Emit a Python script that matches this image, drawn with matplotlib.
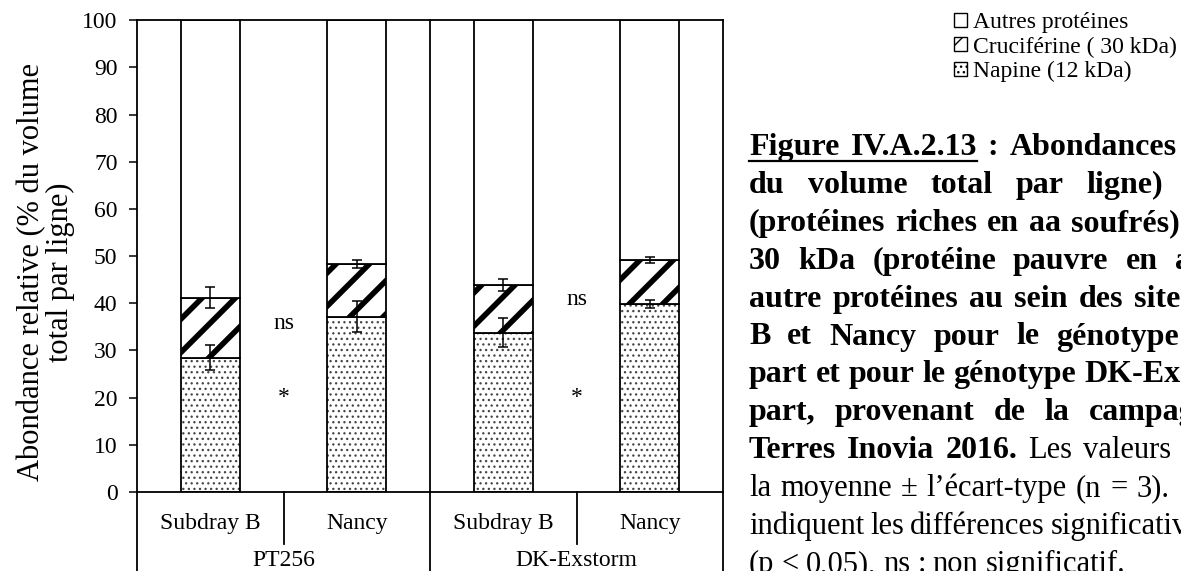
import numpy as np
import matplotlib.pyplot as plt
from matplotlib.patches import Patch

plt.rcParams['font.family'] = ['Liberation Serif', 'DejaVu Serif']

# mean abundances (% of total volume per line) and standard deviations (n = 3)
sites = ['Subdray B', 'Nancy', 'Subdray B', 'Nancy']
genotypes = ['PT256', 'DK-Exstorm']
napine = np.array([28.5, 37.2, 33.8, 39.9])
napine_sd = np.array([2.7, 3.2, 3.0, 0.9])
crucif = np.array([12.7, 11.1, 10.1, 9.3])
crucif_sd = np.array([2.2, 0.8, 1.2, 0.7])
autres = 100 - napine - crucif
sig_napine = ['*', '*']
sig_crucif = ['ns', 'ns']
legend_labels = ['Autres protéines', 'Cruciférine ( 30 kDa)', 'Napine (12 kDa)']

W, H = 1181, 571
fig = plt.figure(figsize=(W / 100, H / 100), dpi=100)
ax = fig.add_axes([137 / W, (H - 492) / H, (723 - 137) / W, (492 - 20.3) / H])

x = np.arange(len(sites))
bw = 0.4

with plt.rc_context({'hatch.linewidth': 0.9}):
    ax.bar(x, napine, bw, color='white', edgecolor='#444', linewidth=0, hatch='...')
ax.bar(x, napine, bw, fill=False, edgecolor='black', linewidth=1.3)
with plt.rc_context({'hatch.linewidth': 4.0}):
    ax.bar(x, crucif, bw, bottom=napine, color='white', edgecolor='black',
           linewidth=1.3, hatch='/')
ax.bar(x, autres, bw, bottom=napine + crucif, color='white', edgecolor='black',
       linewidth=1.3)

ax.errorbar(x, napine, yerr=napine_sd, fmt='none', ecolor='black',
            elinewidth=1.1, capsize=3.3, capthick=1.1)
ax.errorbar(x, napine + crucif, yerr=crucif_sd, fmt='none', ecolor='black',
            elinewidth=1.1, capsize=3.3, capthick=1.1)

# significance between the two sites of each genotype
ns_y = [35.8, 40.8]
for g in range(len(genotypes)):
    ax.text(2 * g + 0.5, 20, sig_napine[g], ha='center', va='center', fontsize=17)
    ax.text(2 * g + 0.5, ns_y[g], sig_crucif[g], ha='center', va='center', fontsize=17)

ax.set_xlim(-0.5, 3.5)
ax.set_ylim(0, 100)
ax.set_yticks(np.arange(0, 101, 10))
ax.set_xticks([])
ax.tick_params(axis='y', direction='out', length=6, width=1.1, pad=8, labelsize=17)
for s in ax.spines.values():
    s.set_linewidth(1.3)

# two-level category axis below the plot
tr = ax.get_xaxis_transform()
for xv in [-0.5, 3.5]:
    ax.plot([xv, xv], [0, -0.2], color='black', lw=1.3, transform=tr, clip_on=False)
ax.plot([1.5, 1.5], [1, -0.2], color='black', lw=1.3, transform=tr, clip_on=False)
for xv in [0.5, 2.5]:
    ax.plot([xv, xv], [0, -0.11], color='black', lw=1.3, transform=tr, clip_on=False)
for i, s in enumerate(sites):
    ax.text(i, -0.066, s, transform=tr, ha='center', va='center', fontsize=17)
for g, name in enumerate(genotypes):
    ax.text(2 * g + 0.5, -0.145, name, transform=tr, ha='center', va='center', fontsize=17)

fig.text(46 / W, 1 - 272 / H, 'Abondance relative (% du volume\ntotal par ligne)',
         rotation=90, ha='center', va='center', multialignment='center',
         fontsize=22, linespacing=0.98)

# legend
with plt.rc_context({'hatch.linewidth': 4.0}):
    h_crucif = Patch(facecolor='white', edgecolor='black', hatch='/', lw=1)
with plt.rc_context({'hatch.linewidth': 0.9}):
    h_napine = Patch(facecolor='white', edgecolor='black', hatch='...', lw=1)
h_autres = Patch(facecolor='white', edgecolor='black', lw=1)
fig.legend([h_autres, h_crucif, h_napine], legend_labels, loc='upper left',
           bbox_to_anchor=(954 / W, 1 - 12 / H), frameon=False, fontsize=17,
           handlelength=0.55, handleheight=0.55, handletextpad=0.25,
           labelspacing=0.15, borderpad=0, borderaxespad=0)

# caption block, justified lines laid out word by word
renderer = fig.canvas.get_renderer()


def put_words(y, words, gap, x0=749, weight='bold'):
    xw = x0
    ends = []
    for w in words:
        if isinstance(w, tuple):
            w, wt = w
        else:
            wt = weight
        size = 23 if wt == 'bold' else 22
        t = fig.text(xw / W, 1 - y / H, w, fontsize=size, fontweight=wt, va='baseline')
        xw += t.get_window_extent(renderer).width
        ends.append(xw)
        xw += gap
    return ends


base = [155 + 37.9 * k for k in range(12)]
ends = put_words(base[0], ['Figure', 'IV.A.2.13', ':', 'Abondances'], 11)
fig.add_artist(plt.Line2D([749 / W, ends[1] / W], [1 - (base[0] + 6) / H] * 2,
                          color='black', lw=1.6))
put_words(base[1], ['du', 'volume', 'total', 'par', 'ligne)'], 23)
put_words(base[2], ['(protéines', 'riches', 'en', 'aa', 'soufrés)'], 10)
put_words(base[3], ['30', 'kDa', '(protéine', 'pauvre', 'en', 'aa'], 17)
put_words(base[4], ['autre', 'protéines', 'au', 'sein', 'des', 'sites'], 11)
put_words(base[5], ['B', 'et', 'Nancy', 'pour', 'le', 'génotype'], 17)
put_words(base[6], ['part', 'et', 'pour', 'le', 'génotype', 'DK-Exstorm'], 8)
put_words(base[7], ['part,', 'provenant', 'de', 'la', 'campagne'], 19)
put_words(base[8], ['Terres', 'Inovia', '2016.', ('Les', 'normal'), ('valeurs', 'normal')], 11)
put_words(base[9], ['la', 'moyenne', '±', 'l’écart-type', '(n', '=', '3).'], 9, weight='normal')
put_words(base[10], ['indiquent', 'les', 'différences', 'significatives'], 6, weight='normal')
put_words(base[11], ['(p', '<', '0,05),', 'ns', ':', 'non', 'significatif.'], 7, weight='normal')

fig.savefig('out.png', dpi=100)
